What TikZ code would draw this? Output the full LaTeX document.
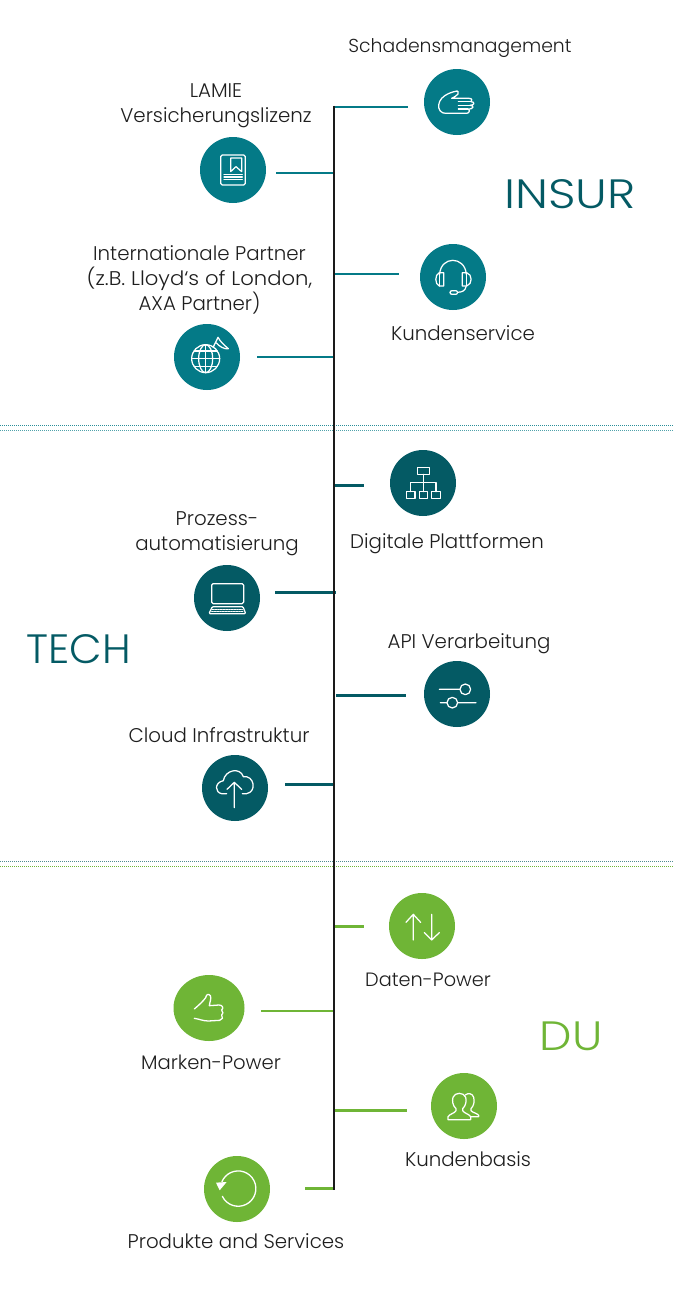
\documentclass[tikz,border=0pt]{standalone}
\usepackage{fontspec}
\usetikzlibrary{shapes.geometric}
\setmainfont{Poppins Light}
\definecolor{tealA}{HTML}{047A87}
\definecolor{tealB}{HTML}{045A64}
\definecolor{greenA}{HTML}{6FB536}
\definecolor{inkA}{HTML}{1E1E1E}
\definecolor{spineA}{HTML}{1A1A1A}
\newcommand{\icoA}[2]{\begin{scope}[shift={(#1,#2)},x=.3333pt,y=-.3333pt]}
\tikzset{
  x=1pt,y=-1pt,
  disc/.style={circle,minimum size=66pt,inner sep=0pt,fill=#1},
  lab/.style={text=inkA,font=\fontsize{19.8}{25}\selectfont,align=center,inner sep=0pt},
  bigl/.style={font=\fontsize{41}{41}\selectfont,inner sep=0pt,text=#1},
  link/.style={line width=2.8pt,draw=#1},
  icn/.style={draw=white,line width=1.25pt,line join=round,line cap=round},
  dotl/.style={line width=1pt,draw=#1,dash pattern=on 1pt off 1pt},
}
\begin{document}
\begin{tikzpicture}
\useasboundingbox (0,0) rectangle (674,1296);
% separators
\coordinate (d1l) at (0,425.5); \coordinate (d1r) at (674,425.5);
\coordinate (d2l) at (0,430); \coordinate (d2r) at (674,430);
\coordinate (d3l) at (0,861); \coordinate (d3r) at (674,861);
\coordinate (d4l) at (0,866); \coordinate (d4r) at (674,866);
\draw[dotl=tealA!85] (d1l) -- (d1r);
\draw[dotl=tealA!70] (d2l) -- (d2r);
\draw[dotl=tealB!70] (d3l) -- (d3r);
\draw[dotl=greenA] (d4l) -- (d4r);
% discs
\node[disc=tealA] (schaden) at (457,102) {};
\node[disc=tealA] (lamie) at (233,170) {};
\node[disc=tealA] (kservice) at (453,277) {};
\node[disc=tealA] (intl) at (207,357) {};
\node[disc=tealB] (digital) at (423,483) {};
\node[disc=tealB] (prozess) at (227,598) {};
\node[disc=tealB] (api) at (457,694) {};
\node[disc=tealB] (cloud) at (235,788) {};
\node[disc=greenA] (daten) at (422,926) {};
\node[ellipse,inner sep=0pt,fill=greenA,minimum width=71pt,minimum height=66pt] (marken) at (209,1008) {};
\node[disc=greenA] (kbasis) at (464,1106) {};
\node[disc=greenA] (produkte) at (237,1189) {};
% connectors
\coordinate (st) at (334,105.8); \coordinate (sb) at (334,1189.5);
\foreach \nm/\xa/\xb/\yy/\cc in {a/334/408/107/tealA,b/276/334/173/tealA,c/334/399/274/tealA,e/257/334/357/tealA,
  f/334/364/485.5/tealB,g/275/336/592.5/tealB,h/336/406/695.5/tealB,i/285/334/784.5/tealB,
  j/334/364/926.5/greenA,k/261/334/1011/greenA,l/334/407/1110.5/greenA,m/305/334/1188.5/greenA}{
  \coordinate (\nm1) at (\xa,\yy); \coordinate (\nm2) at (\xb,\yy);
  \draw[link=\cc] (\nm1) -- (\nm2);
}
\draw[line width=2.6pt,draw=spineA] (st) -- (sb);
% labels
\node[lab,font=\fontsize{18.8}{25}\selectfont] (t1) at (460,48) {Schadensmanagement};
\node[lab] (t2) at (216,105.5) {LAMIE\\Versicherungslizenz};
\node[lab] (t3) at (199.5,280) {Internationale Partner\\\scalebox{1.07}[1]{(z.B. Lloyd‘s of London,}\\AXA Partner)};
\node[lab] (t4) at (463,333) {Kundenservice};
\node[lab] (t5) at (447,543.5) {Digitale Plattformen};
\node[lab] (t6) at (217,534) {Prozess-\\automatisierung};
\node[lab] (t7) at (469,643.5) {API Verarbeitung};
\node[lab] (t8) at (219,735) {Cloud Infrastruktur};
\node[lab,font=\fontsize{19.3}{25}\selectfont] (t9) at (428,980) {Daten-Power};
\node[lab,font=\fontsize{19.6}{25}\selectfont] (t10) at (211,1062) {Marken-Power};
\node[lab] (t11) at (468,1159) {Kundenbasis};
\node[lab] (t12) at (236,1241.5) {Produkte and Services};
\node[bigl=tealB] (insur) at (570,194) {\scalebox{1.17}[1]{INSUR}};
\node[bigl=tealB] (tech) at (79,649) {\scalebox{1.03}[1]{TECH}};
\node[bigl=greenA] (du) at (571,1036) {\scalebox{1.12}[1]{DU}};
% hand
\icoA{425}{70}
\draw[icn] (96,63) .. controls (80,66) and (62,72) .. (50,85) .. controls (40,97) and (38,112) .. (45,122) .. controls (50,128) and (55,130) .. (62,130) -- (125,130)
  .. controls (134,130) and (136,118) .. (128,117) .. controls (148,118) and (148,106) .. (135,106) .. controls (150,106) and (150,95) .. (138,95) .. controls (142,92) and (142,85) .. (132,85) -- (80,85)
  .. controls (88,80) and (96,78) .. (99,72) .. controls (101,66) and (99,63) .. (96,63);
\draw[icn] (100,95) -- (138,95) (100,106) -- (135,106) (100,117) -- (128,117);
\end{scope}
% book
\icoA{160}{60}
\draw[icn,rounded corners=1.5pt] (182,285) rectangle (256,375);
\draw[icn] (212,294) -- (245,294) -- (245,335) -- (228,320) -- (212,335) -- cycle;
\draw[icn] (192,343) -- (247,343) (192,351) -- (247,351) (192,359) -- (247,359);
\end{scope}
% headset
\icoA{160}{235}
\draw[icn] (839,118) .. controls (842,62) and (915,62) .. (919,118);
\draw[icn] (838,113) .. controls (824,118) and (824,148) .. (838,153) -- (851,153) -- (851,113) -- cycle;
\draw[icn] (839,113) -- (839,153) (919,113) -- (919,153);
\draw[icn] (920,113) .. controls (938,118) and (938,148) .. (920,153) -- (907,153) -- (907,113) -- cycle;
\draw[icn] (918,155) .. controls (916,167) and (908,171) .. (893,172);
\draw[icn,rounded corners=2pt] (870,167) rectangle (893,178);
\end{scope}
% globe
\icoA{175}{325}
\draw[icn] (92,101) circle [radius=42];
\draw[icn] (92,101) ellipse [x radius=21,y radius=42];
\draw[icn] (92,59) -- (92,143) (50,101) -- (134,101) (57,78) -- (127,78) (57,124) -- (127,124);
\draw[icn] (115,66) -- (129,37) .. controls (137,52) and (150,62) .. (160,71) .. controls (148,73) and (135,66) .. (122,52);
\end{scope}
% org chart
\icoA{180}{440}
\draw[icn] (712,83) rectangle (748,103);
\draw[icn] (730,103) -- (730,155) (692,155) -- (692,128) -- (768,128) -- (768,155);
\draw[icn] (680,155) rectangle (705,175) (718,155) rectangle (743,175) (755,155) rectangle (781,175);
\end{scope}
% laptop
\icoA{180}{440}
\draw[icn,rounded corners=1.5pt] (95,431) rectangle (191,491);
\draw[icn,rounded corners=1pt] (97,500) -- (189,500) -- (197,521) -- (87,521) -- cycle;
\draw[icn,line width=1pt,dash pattern=on 1.7pt off 1pt] (97,508) -- (187,508) (95,514) -- (189,514);
\end{scope}
% sliders
\icoA{190}{650}
\draw[icn] (748,118) -- (810,118) (826,118) circle [radius=16];
\draw[icn] (751,158) -- (771,158) (787,158) circle [radius=16] (803,158) -- (858,158);
\end{scope}
% cloud
\icoA{190}{650}
\draw[icn] (110,431) -- (95,431) .. controls (75,428) and (72,398) .. (100,392) .. controls (105,360) and (150,350) .. (160,380) .. controls (192,375) and (202,425) .. (170,431) -- (157,431);
\draw[icn] (133,473) -- (133,397) (111,418) -- (133,397) -- (155,418);
\end{scope}
% arrows
\icoA{160}{885}
\draw[icn] (760,165) -- (760,88) (738,112) -- (760,88) -- (782,112);
\draw[icn] (815,88) -- (815,165) (793,143) -- (815,165) -- (838,143);
\end{scope}
% thumb
\icoA{175}{975}
\draw[icn,line width=1.3pt] (58,102) .. controls (72,90) and (85,78) .. (92,68) .. controls (94,58) and (100,55) .. (106,62) .. controls (110,70) and (104,82) .. (103,92) -- (132,90) .. controls (144,90) and (146,100) .. (140,105) .. controls (146,110) and (144,118) .. (140,120) .. controls (146,126) and (142,135) .. (134,136) -- (100,138) .. controls (85,138) and (72,132) .. (58,130);
\end{scope}
% users
\icoA{432}{1074}
\draw[icn] (48,137) -- (48,128) .. controls (52,120) and (68,118) .. (72,110) -- (72,104) .. controls (62,95) and (60,80) .. (63,70) .. controls (68,54) and (96,54) .. (101,70) .. controls (104,80) and (102,95) .. (92,104) -- (92,110) .. controls (96,118) and (112,120) .. (116,128) -- (116,137) -- cycle;
\draw[icn] (100,63) .. controls (108,56) and (122,58) .. (125,70) .. controls (128,82) and (126,95) .. (117,104) -- (117,110) .. controls (122,116) and (136,118) .. (140,124) -- (140,128) -- (116,128);
\end{scope}
% refresh
\icoA{190}{1065}
\draw[icn,line width=1.3pt] (97,394) arc [start angle=154,end angle=-157,radius=53];
\fill[white] (78,353) -- (110,351) -- (89,376) -- cycle;
\end{scope}
\end{tikzpicture}
\end{document}
